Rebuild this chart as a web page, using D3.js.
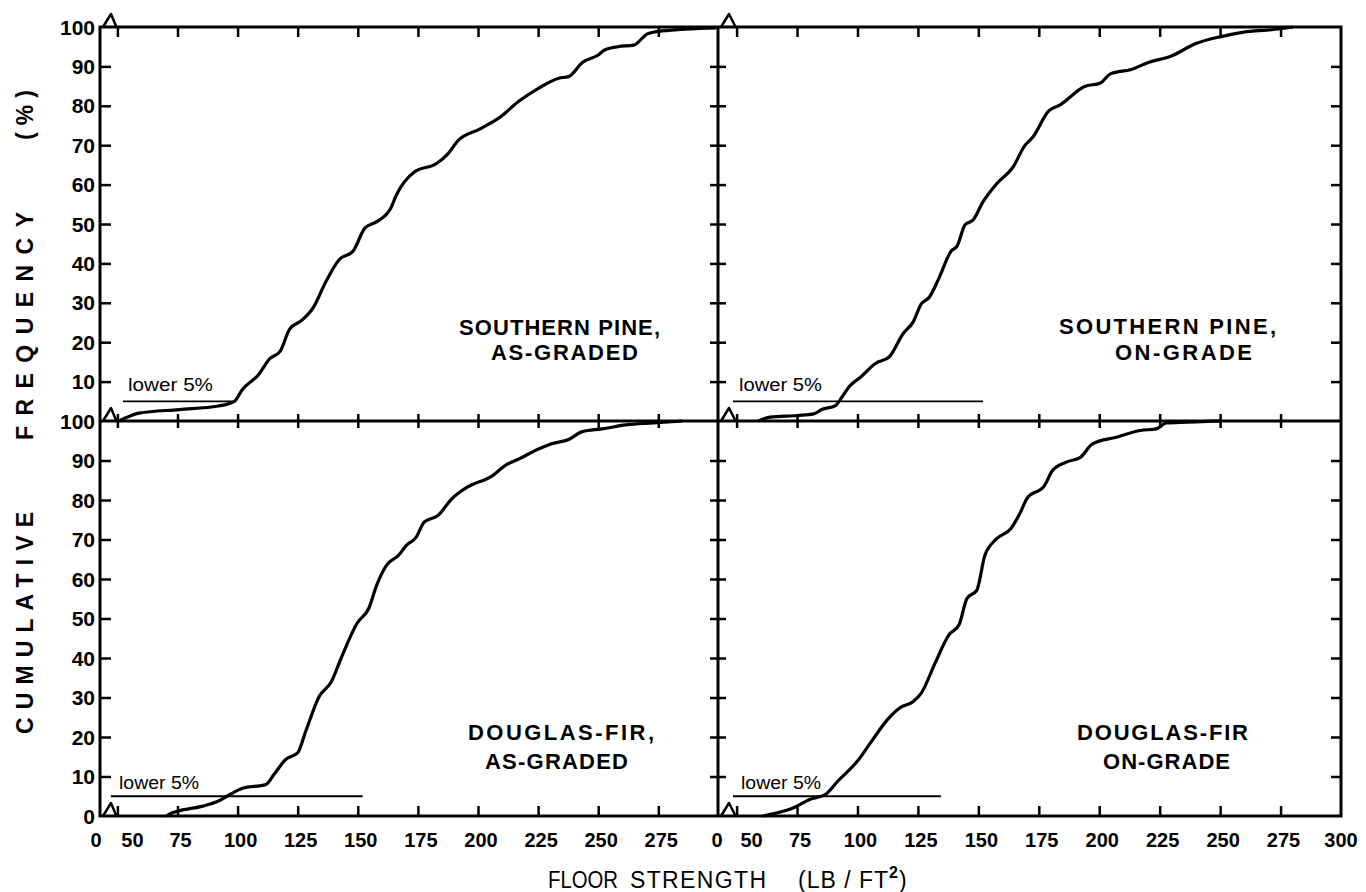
<!DOCTYPE html>
<html>
<head>
<meta charset="utf-8">
<script src="https://cdn.jsdelivr.net/npm/d3@7"></script>
<style>
  body { margin: 0; background: #fff; }
  svg text { font-family: "Liberation Sans", Arial, sans-serif; fill: #000; }
  .axis path { display: none; }
  .axis line { stroke: #000; stroke-width: 2.5; }
</style>
</head>
<body>
<svg id="chart" width="1366" height="892"></svg>
<script>
// tick values and labels
var xTicks = [50, 75, 100, 125, 150, 175, 200, 225, 250, 275];
var xLabelsLeft = [50, 75, 100, 125, 150, 175, 200, 225, 250, 275];
var xLabelsRight = [50, 75, 100, 125, 150, 175, 200, 225, 250, 275, 300];
var yTicks = [10, 20, 30, 40, 50, 60, 70, 80, 90];
var yLabelsTop = [10, 20, 30, 40, 50, 60, 70, 80, 90, 100];
var yLabelsBottom = [0, 10, 20, 30, 40, 50, 60, 70, 80, 90, 100];

// cumulative curves: [floor strength lb/ft2, cumulative %]
var southernPineAsGraded = [[50.5, 0], [53, 0.7], [59, 2], [75.7, 2.9], [92, 3.8], [98.7, 5], [102, 8],
  [108.6, 11.7], [113.5, 15.9], [117.6, 17.6], [121.7, 23.4], [126.6, 25.5], [131.6, 28.9], [136.5, 35.1],
  [142.3, 41], [148, 43.1], [153, 49], [157.9, 50.6], [163.7, 54], [166, 57.3], [173.5, 63.2], [182.6, 65.3],
  [187.5, 67.8], [191.6, 71.1], [200.7, 74.1], [208.9, 77], [217.1, 81.2], [225.3, 84.5], [233.6, 87],
  [237.7, 87.4], [243.4, 91], [250, 92.9], [252.5, 94.1], [258.2, 95], [264.8, 95.4], [270.6, 98.3],
  [276.4, 99], [299, 99.8]];
var southernPineOnGrade = [[59, 0], [63.8, 1], [75.3, 1.4], [81.9, 1.8], [85.2, 2.9], [90.9, 3.9], [93.4, 5.9],
  [96.7, 8.8], [101.6, 11.3], [107.4, 14.6], [113.2, 16.3], [118.9, 22.2], [123, 25.1], [126.4, 29.7],
  [129.7, 31.4], [133.8, 36.4], [138.7, 43.1], [141.2, 44.4], [144.5, 49.8], [147.8, 51], [151.9, 55.6],
  [157.7, 60.3], [164.3, 64.4], [169.2, 69.9], [172.5, 72], [179.1, 78.7], [184, 80.3], [193.9, 84.9],
  [200.5, 85.8], [204.6, 88.1], [213.7, 89.3], [220.3, 91], [229.3, 92.5], [240, 95.8], [249.9, 97.5],
  [259.8, 98.7], [271.3, 99.3], [280, 100]];
var douglasFirAsGraded = [[70.5, 0], [72, 0.6], [75.7, 1.3], [85.5, 2.5], [92.1, 3.8], [97, 5.5], [102, 7],
  [111.8, 8], [115.1, 10.5], [120, 14.3], [125, 16], [128.3, 21.4], [134, 30.3], [139, 34], [143.1, 40],
  [149.7, 48.8], [154.6, 52.6], [157.9, 58.5], [162, 63.5], [167, 66], [170.2, 68.5], [174.3, 70.6],
  [177.6, 74.4], [183.4, 76.1], [189.1, 80.3], [195.7, 83.3], [205.6, 86], [212.2, 89.1], [217.1, 90.4],
  [223.7, 92.5], [230.3, 94.2], [237.7, 95.3], [243.4, 97.3], [251.6, 98], [261.5, 99], [273, 99.5], [285, 100]];
var douglasFirOnGrade = [[61, 0], [64, 0.4], [73.6, 2.1], [80.2, 4.2], [86.8, 5.5], [91.8, 8.8], [100, 13.9],
  [105.8, 18.9], [112.4, 24.4], [117.3, 27.3], [123.1, 29], [126.4, 31.1], [132.1, 38.7], [137.9, 45.9],
  [142, 48.4], [145.3, 55.1], [149.4, 57.2], [152.7, 66], [157.6, 70.2], [163.4, 72.7], [167.5, 77],
  [170, 80.3], [177.4, 83.7], [180.7, 87.5], [186.4, 89.6], [192.2, 90.8], [197.2, 94.2], [207.1, 95.9],
  [217, 97.6], [223.6, 98], [227.7, 99.5], [240, 99.8], [250, 100]];

// "lower 5%" reference lines: [from strength, to strength, %]
var lowerSpAs = [52.3, 98.7, 5];
var lowerSpOn = [48.5, 151.9, 5];
var lowerDfAs = [47.3, 152, 5];
var lowerDfOn = [48.5, 134.5, 5];

var panelNames = [["SOUTHERN PINE,", "AS-GRADED"], ["SOUTHERN PINE,", "ON-GRADE"],
  ["DOUGLAS-FIR,", "AS-GRADED"], ["DOUGLAS-FIR", "ON-GRADE"]];

// frame layout (window.top is read-only, so own names)
var fLeft = 100, fMid = 718, fRight = 1341, fTop = 27, fMiddle = 421, fBottom = 816;

var svg = d3.select("#chart");

var xLeft = d3.scaleLinear().domain([50, 300]).range([117.4, 718.4]);
var xRight = d3.scaleLinear().domain([50, 300]).range([736.6, 1341]);
var yTop = d3.scaleLinear().domain([0, 100]).range([fMiddle, fTop]);
var yBottom = d3.scaleLinear().domain([0, 100]).range([fBottom, fMiddle]);

// outer frame and dividers
svg.append("rect")
  .attr("x", fLeft).attr("y", fTop)
  .attr("width", fRight - fLeft).attr("height", fBottom - fTop)
  .style("fill", "none").style("stroke", "#000").style("stroke-width", 3);
svg.append("line")
  .attr("x1", fMid).attr("x2", fMid).attr("y1", fTop).attr("y2", fBottom)
  .style("stroke", "#000").style("stroke-width", 3);
svg.append("line")
  .attr("x1", fLeft).attr("x2", fRight).attr("y1", fMiddle).attr("y2", fMiddle)
  .style("stroke", "#000").style("stroke-width", 3);

function ticks(axis, tx, ty) {
  svg.append("g")
    .attr("class", "axis")
    .attr("transform", "translate(" + tx + "," + ty + ")")
    .call(axis.tickFormat(""));
}

[xLeft, xRight].forEach(function (x) {
  ticks(d3.axisBottom(x).tickValues(xTicks).tickSize(10), 0, fTop);
  ticks(d3.axisBottom(x).tickValues(xTicks).tickSize(7), 0, fMiddle);
  ticks(d3.axisTop(x).tickValues(xTicks).tickSize(7), 0, fMiddle);
  ticks(d3.axisTop(x).tickValues(xTicks).tickSize(10), 0, fBottom);
});
[yTop, yBottom].forEach(function (y) {
  ticks(d3.axisRight(y).tickValues(yTicks).tickSize(11), fLeft, 0);
  ticks(d3.axisRight(y).tickValues(yTicks).tickSize(8), fMid, 0);
  ticks(d3.axisLeft(y).tickValues(yTicks).tickSize(8), fMid, 0);
  ticks(d3.axisLeft(y).tickValues(yTicks).tickSize(10), fRight, 0);
});

// axis break marks
[[fLeft, xLeft], [fMid, xRight]].forEach(function (p) {
  [fTop, fMiddle, fBottom].forEach(function (yy) {
    svg.append("path")
      .attr("d", "M" + (p[0] + 3) + "," + yy + "L" + (p[0] + 11) + "," + (yy - 13) +
        "L" + (p[1](50) - 1) + "," + yy)
      .style("fill", "none").style("stroke", "#000").style("stroke-width", 2.5)
      .style("stroke-linejoin", "round");
  });
});

// y tick labels
function yLabels(vals, y) {
  svg.append("g").selectAll("text")
    .data(vals)
    .enter()
    .append("text")
    .attr("x", 95)
    .attr("y", function (d) { return y(d); })
    .attr("dy", "0.36em")
    .attr("text-anchor", "end")
    .style("font-size", "21px")
    .style("font-weight", "bold")
    .text(function (d) { return d; });
}
yLabels(yLabelsTop, yTop);
yLabels(yLabelsBottom, yBottom);

// x tick labels
function xLabels(vals, x, zeroX) {
  var g = svg.append("g")
    .style("font-size", "20px")
    .style("font-weight", "bold")
    .attr("text-anchor", "middle");
  g.append("text").attr("x", zeroX).attr("y", 847).text("0");
  g.selectAll(".lab")
    .data(vals)
    .enter()
    .append("text")
    .attr("x", function (d) { return x(d) + (d === 50 ? 15 : d === 300 ? 0 : 3); })
    .attr("y", 847)
    .text(function (d) { return d; });
}
xLabels(xLabelsLeft, xLeft, 96);
xLabels(xLabelsRight, xRight, 717);

// panels
var panels = [
  { x: xLeft, y: yTop, data: southernPineAsGraded, lower: lowerSpAs, name: panelNames[0],
    lab: [[459, 201, 335], [491, 147, 360]], note: [128, 85, 391] },
  { x: xRight, y: yTop, data: southernPineOnGrade, lower: lowerSpOn, name: panelNames[1],
    lab: [[1059, 217, 334], [1115, 137, 360]], note: [739, 83, 391] },
  { x: xLeft, y: yBottom, data: douglasFirAsGraded, lower: lowerDfAs, name: panelNames[2],
    lab: [[468, 186, 740], [485, 143, 769]], note: [119, 80, 789] },
  { x: xRight, y: yBottom, data: douglasFirOnGrade, lower: lowerDfOn, name: panelNames[3],
    lab: [[1077, 171, 740], [1103, 127, 769]], note: [741, 80, 789] }
];

panels.forEach(function (p) {
  var line = d3.line()
    .x(function (d) { return p.x(d[0]); })
    .y(function (d) { return p.y(d[1]); })
    .curve(d3.curveMonotoneX);

  svg.append("path")
    .datum(p.data)
    .attr("d", line)
    .style("fill", "none")
    .style("stroke", "#000")
    .style("stroke-width", 3.2)
    .style("stroke-linejoin", "round");

  // lower 5% line
  svg.append("line")
    .attr("x1", p.x(p.lower[0])).attr("x2", p.x(p.lower[1]))
    .attr("y1", p.y(p.lower[2])).attr("y2", p.y(p.lower[2]))
    .style("stroke", "#000").style("stroke-width", 1.8);

  svg.append("text")
    .attr("x", p.note[0]).attr("y", p.note[2])
    .attr("textLength", p.note[1])
    .attr("lengthAdjust", "spacingAndGlyphs")
    .style("font-size", "18px")
    .text("lower 5%");

  p.name.forEach(function (t, i) {
    svg.append("text")
      .attr("x", p.lab[i][0]).attr("y", p.lab[i][2])
      .attr("textLength", p.lab[i][1])
      .attr("lengthAdjust", "spacing")
      .style("font-size", "22px")
      .style("font-weight", "bold")
      .text(t);
  });
});

// axis titles
var xt = svg.append("g").style("font-size", "23px");
xt.append("text").attr("x", 548).attr("y", 888).attr("textLength", 70)
  .attr("lengthAdjust", "spacingAndGlyphs").text("FLOOR");
xt.append("text").attr("x", 630).attr("y", 888).attr("textLength", 136)
  .attr("lengthAdjust", "spacing").text("STRENGTH");
var unit = xt.append("text").attr("x", 798).attr("y", 888).attr("letter-spacing", 1);
unit.append("tspan").text("(LB / FT");
unit.append("tspan").attr("dy", -10).style("font-size", "16px").style("font-weight", "bold").text("2");
unit.append("tspan").attr("dy", 10).text(")");

var yt = svg.append("g")
  .attr("transform", "translate(33,0)")
  .style("font-size", "23px")
  .style("font-weight", "bold");
[["CUMULATIVE", 623, 222], ["FREQUENCY", 326, 228], ["(%)", 115, 50]].forEach(function (w) {
  yt.append("text")
    .attr("transform", "translate(0," + w[1] + ")rotate(-90)")
    .attr("text-anchor", "middle")
    .attr("textLength", w[2])
    .attr("lengthAdjust", "spacing")
    .text(w[0]);
});
</script>
</body>
</html>
